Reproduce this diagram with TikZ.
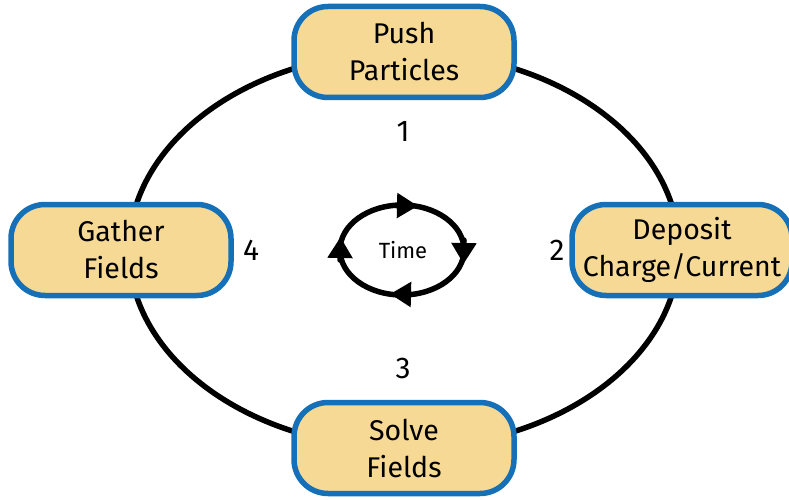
\documentclass[tikz,border=0pt]{standalone}
\usepackage{fontspec}
\setmainfont{Fira Sans}
\usetikzlibrary{arrows.meta}
\definecolor{stepfill}{HTML}{F5D995}
\definecolor{stepline}{HTML}{1570B8}
\begin{document}
\begin{tikzpicture}[x=1pt, y=-1pt, line cap=round,
  stepbox/.style={draw=stepline, line width=5.5pt, fill=stepfill, rounded corners=34pt,
    minimum width=220pt, minimum height=91pt, align=center, inner sep=0pt,
    font=\fontsize{28.5}{37}\selectfont},
  num/.style={font=\fontsize{30}{36}\selectfont},
  tiparrow/.style={line width=5.5pt, -{Triangle[length=21pt, width=24pt]}}]
\useasboundingbox (0,0) rectangle (789,500);

% --- ciclo grande ---
\draw[line width=5.5pt] (404,250) ellipse (275pt and 198pt);

% --- pasos ---
\node[stepbox] (push) at (404,52) {Push\\Particles};
\node[stepbox] (deposit) at (682,250) {Deposit\\Charge/Current};
\node[stepbox] (solve) at (404,448) {Solve\\Fields};
\node[stepbox] (gather) at (121,250) {Gather\\Fields};

% numeros
\node[num] (n1) at (403,131) {1};
\node[num] (n2) at (557,250) {2};
\node[num] (n3) at (403,368) {3};
\node[num] (n4) at (251,250) {4};

% --- tiempo ---
\draw[line width=5.5pt] (402,250) ellipse (62pt and 45pt);
\node[font=\fontsize{22}{24}\selectfont] (time) at (403,250) {Time};
% puntas
\coordinate (ta) at (396,205.5);  \coordinate (tb) at (418,206);
\coordinate (ra) at (464,240);    \coordinate (rb) at (463.5,264);
\coordinate (ba) at (411,294.5);  \coordinate (bb) at (390,294);
\coordinate (la) at (340,260);    \coordinate (lb) at (340.5,237);
\draw[tiparrow] (ta) -- (tb);
\draw[tiparrow] (ra) -- (rb);
\draw[tiparrow] (ba) -- (bb);
\draw[tiparrow] (la) -- (lb);

\end{tikzpicture}
\end{document}
